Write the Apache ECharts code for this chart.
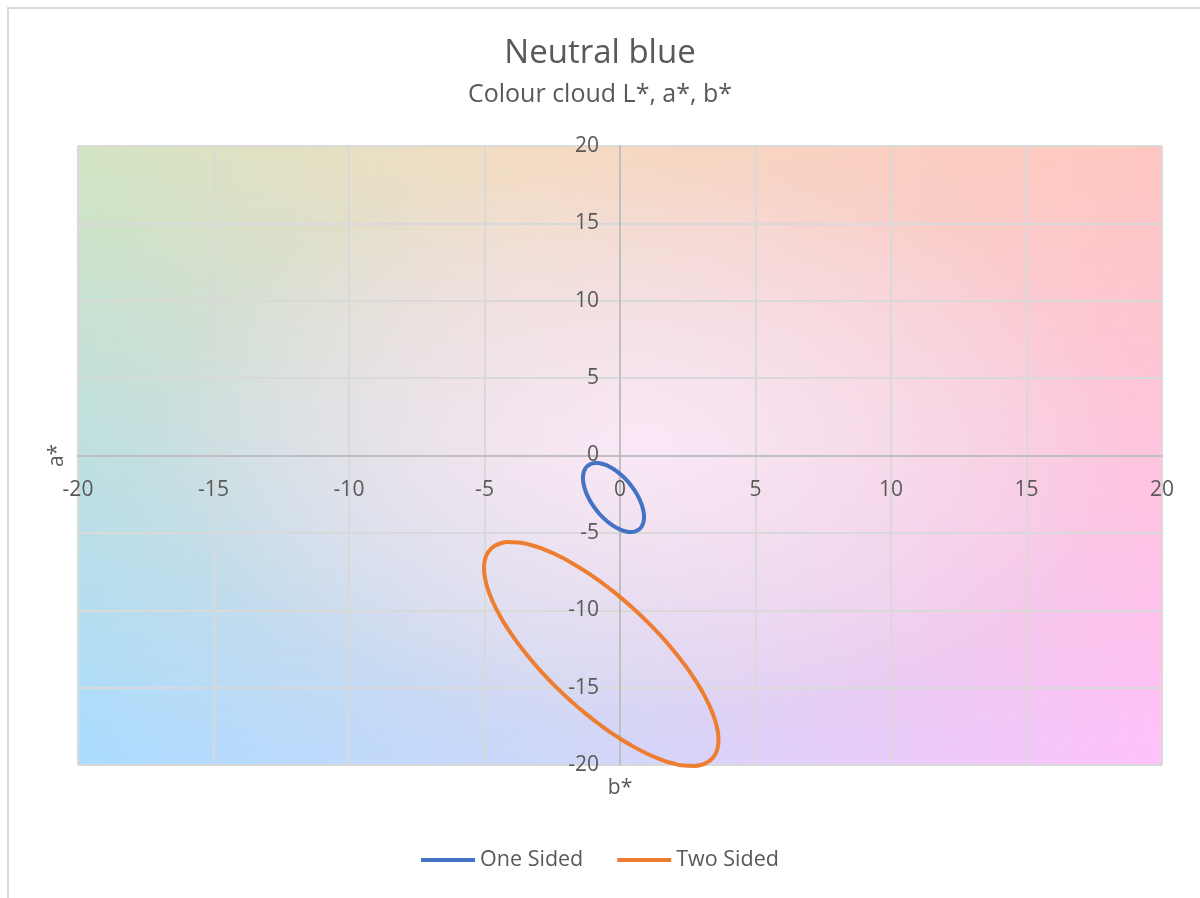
<!DOCTYPE html>
<html>
<head>
<meta charset="utf-8">
<script src="https://cdn.jsdelivr.net/npm/echarts@6/dist/echarts.min.js"></script>
<style>
  html, body { margin:0; padding:0; background:#fff; width:1200px; height:898px; overflow:hidden; }
  #frame { position:absolute; left:7px; top:7px; width:1300px; height:1000px; border-top:2px solid #d9d9d9; border-left:2px solid #d9d9d9; }
  #bg { position:absolute; left:78px; top:146px; width:1084px; height:619px;
        background: linear-gradient(to right, #abdcff, #cfd8fa 45%, #ffc2fc); }
  #bgTop { position:absolute; left:0; top:0; width:100%; height:100%;
        background: linear-gradient(to right, #d2e4c2, #f4dcc2 40%, #ffc6c0);
        -webkit-mask-image: linear-gradient(to bottom, black, transparent);
        mask-image: linear-gradient(to bottom, black, transparent); }
  #bgMid { position:absolute; left:0; top:0; width:100%; height:100%;
        background: radial-gradient(ellipse 45% 45% at 52% 48%, rgba(255,236,252,0.8), rgba(255,236,252,0)); }
  #chart { position:absolute; left:0; top:0; width:1200px; height:898px; }
</style>
</head>
<body>
<div id="frame"></div>
<div id="bg"><div id="bgTop"></div><div id="bgMid"></div></div>
<div id="chart"></div>
<script>
// Data: outline points (b*, a*) of each colour cloud
const seriesNames = ['One Sided', 'Two Sided'];
const oneSidedB = [0.886, 0.876, 0.847, 0.800, 0.735, 0.653, 0.556, 0.445, 0.323, 0.191, 0.051, -0.093,
  -0.240, -0.387, -0.531, -0.671, -0.803, -0.925, -1.036, -1.133, -1.215, -1.280, -1.327, -1.356,
  -1.366, -1.356, -1.327, -1.280, -1.215, -1.133, -1.036, -0.925, -0.803, -0.671, -0.531, -0.387,
  -0.240, -0.093, 0.051, 0.191, 0.323, 0.445, 0.556, 0.653, 0.735, 0.800, 0.847, 0.876, 0.886];
const oneSidedA = [-3.974, -4.203, -4.407, -4.582, -4.725, -4.833, -4.905, -4.940, -4.937, -4.895, -4.816, -4.702,
  -4.553, -4.373, -4.164, -3.931, -3.677, -3.406, -3.124, -2.834, -2.542, -2.254, -1.973, -1.705,
  -1.454, -1.225, -1.021, -0.846, -0.703, -0.595, -0.523, -0.488, -0.491, -0.533, -0.612, -0.726,
  -0.875, -1.055, -1.264, -1.497, -1.751, -2.022, -2.305, -2.594, -2.886, -3.174, -3.455, -3.723, -3.974];
const twoSidedB = [3.635, 3.598, 3.487, 3.305, 3.055, 2.741, 2.367, 1.942, 1.471, 0.964, 0.428, -0.127,
  -0.692, -1.257, -1.812, -2.348, -2.855, -3.326, -3.751, -4.125, -4.439, -4.689, -4.871, -4.982,
  -5.019, -4.982, -4.871, -4.689, -4.439, -4.125, -3.751, -3.326, -2.855, -2.348, -1.812, -1.257,
  -0.692, -0.127, 0.428, 0.964, 1.471, 1.942, 2.367, 2.741, 3.055, 3.305, 3.487, 3.598, 3.635];
const twoSidedA = [-18.384, -18.942, -19.395, -19.736, -19.958, -20.059, -20.035, -19.889, -19.621, -19.237, -18.744, -18.149,
  -17.464, -16.698, -15.867, -14.984, -14.063, -13.122, -12.176, -11.241, -10.333, -9.467, -8.659, -7.922,
  -7.270, -6.712, -6.259, -5.918, -5.696, -5.595, -5.619, -5.765, -6.033, -6.417, -6.910, -7.505,
  -8.191, -8.956, -9.787, -10.670, -11.591, -12.532, -13.478, -14.413, -15.321, -16.187, -16.995, -17.730, -18.384];
const axisMin = -20, axisMax = 20, axisStep = 5;

const pairs = (xs, ys) => xs.map((x, i) => [x, ys[i]]);
const FONT = '"Open Sans", "Noto Sans", sans-serif';
const TXT = '#595959';

// layout of the plot area (pixels)
const G = { left: 78, right: 38, top: 146, bottom: 133 };
const plotW = 1200 - G.left - G.right, plotH = 898 - G.top - G.bottom;
// axes cross at zero: shift each axis from the grid edge to the zero line
const xShift = -plotH * (0 - axisMin) / (axisMax - axisMin);
const yShift = -plotW * (0 - axisMin) / (axisMax - axisMin);

const chart = echarts.init(document.getElementById('chart'), null, { renderer: 'canvas' });
chart.setOption({
  backgroundColor: 'transparent',
  animation: false,
  textStyle: { fontFamily: FONT },
  title: {
    text: 'Neutral blue',
    subtext: 'Colour cloud L*, a*, b*',
    left: 'center',
    top: 32,
    itemGap: 12,
    textStyle: { fontFamily: FONT, fontSize: 33, fontWeight: 'normal', color: TXT },
    subtextStyle: { fontFamily: FONT, fontSize: 25, color: TXT }
  },
  legend: {
    bottom: 22,
    left: 'center',
    itemWidth: 54,
    itemHeight: 4,
    itemGap: 34,
    icon: 'rect',
    textStyle: { fontFamily: FONT, fontSize: 21.5, color: TXT },
    data: seriesNames
  },
  grid: Object.assign({ containLabel: false, outerBoundsMode: 'none' }, G),
  xAxis: {
    type: 'value', min: axisMin, max: axisMax, interval: axisStep,
    position: 'bottom', offset: xShift,
    name: 'b*', nameLocation: 'middle', nameGap: 322,
    nameTextStyle: { fontFamily: FONT, fontSize: 21, color: TXT },
    axisLine: { show: true, onZero: false, lineStyle: { color: '#bfbfbf', width: 2 } },
    axisTick: { show: false },
    axisLabel: { fontFamily: FONT, fontSize: 21, color: TXT, margin: 24 },
    splitLine: { show: true, lineStyle: { color: '#d9d9d9', width: 2 } }
  },
  yAxis: {
    type: 'value', min: axisMin, max: axisMax, interval: axisStep,
    position: 'left', offset: yShift,
    name: 'a*', nameLocation: 'middle', nameGap: 552, nameRotate: 90,
    nameTextStyle: { fontFamily: FONT, fontSize: 21, color: TXT },
    axisLine: { show: true, onZero: false, lineStyle: { color: '#bfbfbf', width: 2 } },
    axisTick: { show: false },
    axisLabel: { fontFamily: FONT, fontSize: 21, color: TXT, margin: 21 },
    splitLine: { show: true, lineStyle: { color: '#d9d9d9', width: 2 } }
  },
  series: [
    {
      name: seriesNames[0], type: 'line', smooth: true, showSymbol: false, symbol: 'none', clip: false,
      color: '#4472c4', lineStyle: { width: 4, color: '#4472c4' },
      data: pairs(oneSidedB, oneSidedA), z: 5
    },
    {
      name: seriesNames[1], type: 'line', smooth: true, showSymbol: false, symbol: 'none', clip: false,
      color: '#ed7d31', lineStyle: { width: 4, color: '#ed7d31' },
      data: pairs(twoSidedB, twoSidedA), z: 5
    }
  ]
});
</script>
</body>
</html>
